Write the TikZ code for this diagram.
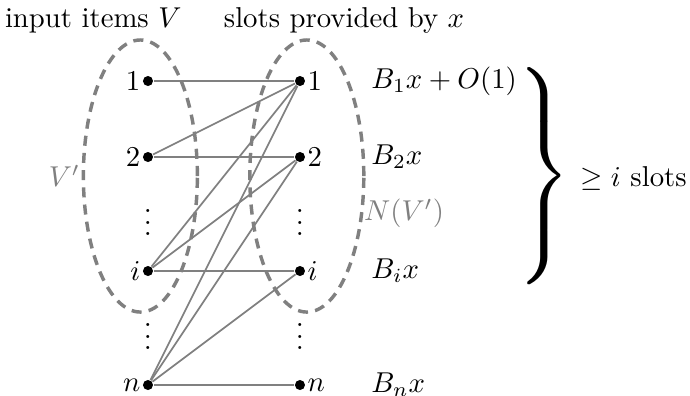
\documentclass[tikz,border=0pt]{standalone}
\usepackage{graphicx}
\usetikzlibrary{positioning}
\begin{document}
\begin{tikzpicture}[
  x=0.93cm, y=0.93cm,
  vertex/.style={circle, fill=black, inner sep=0pt, minimum size=3.5pt},
  link/.style={gray, line width=0.6pt},
  group/.style={gray, line width=1.2pt, dash pattern=on 3.5pt off 2.5pt},
  every label/.style={inner sep=0.5pt}
]
\useasboundingbox (-1.947,-4.132) rectangle (7.132,1.066);

% the two sets
\draw[group] (-0.1,-1.25) ellipse (0.75 and 1.79);
\draw[group] (2.09,-1.25) ellipse (0.75 and 1.79);

\node[anchor=base] (items) at (-0.72,0.70) {input items $V$};
\node[anchor=base] (provided) at (2.58,0.70) {slots provided by $x$};
\node[gray] (vsub) at (-1.1,-1.25) {$V'$};
\node[gray] (nsub) at (3.37,-1.74) {$N(V')$};

% items and slots
\foreach \n/\y in {1/0, 2/-1, i/-2.5, n/-4} {
  \node[vertex, label=left:$\n$] (v\n) at (0,\y) {};
  \node[vertex, label=right:$\n$] (s\n) at (2,\y) {};
}
\node (vdotsa) at (0,-1.75) {$\vdots$};
\node (vdotsb) at (0,-3.25) {$\vdots$};
\node (sdotsa) at (2,-1.75) {$\vdots$};
\node (sdotsb) at (2,-3.25) {$\vdots$};

\foreach \a/\b in {1/1, 2/1, 2/2, i/1, i/2, i/i, n/1, n/2, n/i, n/n}
  \draw[link] (v\a) -- (s\b);

% slot counts
\node[right=0.68cm of s1] (b1) {$B_1x + O(1)$};
\node[right=0.68cm of s2] (b2) {$B_2x$};
\node[right=0.68cm of si] (bi) {$B_ix$};
\node[right=0.68cm of sn] (bn) {$B_nx$};

\node[anchor=west, inner sep=0pt] (brace) at (4.755,-1.25)
  {\scalebox{2.1}{$\left.\rule[-15.5pt]{0pt}{36pt}\right\}$}};
\node[anchor=west] (count) at (5.56,-1.28) {$\geq i$ slots};
\end{tikzpicture}
\end{document}
